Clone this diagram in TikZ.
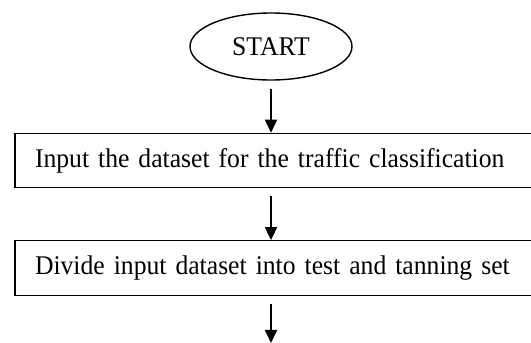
\documentclass[tikz,border=0pt]{standalone}
\usepackage{fontspec}
\setmainfont{Liberation Serif}[FakeStretch=0.95]
\usetikzlibrary{arrows.meta, positioning, shapes.geometric}
\tikzset{box/.style={rectangle,draw,line width=1.4pt,align=left,text width=485pt,inner xsep=20pt,minimum height=54pt,font=\fontsize{27}{30}\selectfont},
  term/.style={ellipse,draw,line width=1.4pt,minimum width=162pt,minimum height=67pt,inner sep=0pt,font=\fontsize{27}{30}\selectfont},
  line/.style={-{Triangle[length=13pt,width=12pt]},line width=1.8pt,shorten <=8pt}}

\begin{document}
\begin{tikzpicture}[node distance=52pt]
\useasboundingbox (0,0) rectangle (531pt,343pt);
\node[term] (start) at (271pt,296.5pt) {START};
\node[box, below=of start, xshift=6.5pt] (in) {Input the dataset for the traffic classification};
\node[box, below=of in, minimum height=55pt] (split) {Divide input dataset into test and tanning set};
\coordinate (nxt) at (start |- 0,0);
\draw[line] (start) -- (start |- in.north);
\draw[line] (start |- in.south) -- (start |- split.north);
\draw[line] (start |- split.south) -- (nxt);
\end{tikzpicture}
\end{document}
